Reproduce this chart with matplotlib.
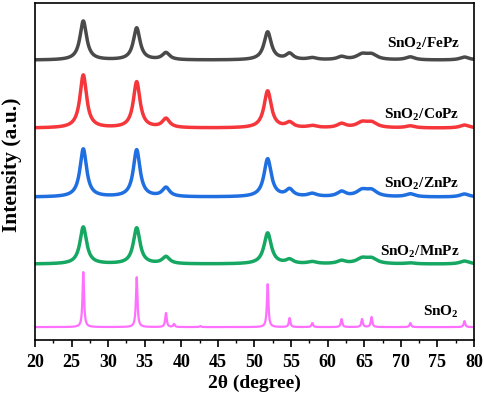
import numpy as np
import matplotlib.pyplot as plt

plt.rcParams['font.family'] = 'Liberation Serif'
plt.rcParams['font.weight'] = 'bold'
plt.rcParams['mathtext.fontset'] = 'custom'
plt.rcParams['mathtext.rm'] = 'Liberation Serif:bold'
plt.rcParams['mathtext.bf'] = 'Liberation Serif:bold'

# peak positions (2theta) and heights
pos = [26.6, 33.9, 37.9, 51.8, 54.8, 57.9, 61.9, 64.7, 66.0, 71.3, 78.7]
fepz = [39, 32, 7, 28, 6, 2, 3, 5, 5, 3, 3]
copz = [53, 46, 9, 37, 5, 2, 4, 5, 5, 2, 3]
znpz = [48, 47, 9, 38, 7, 3, 5, 6, 6, 3, 3]
mnpz = [37, 36, 7, 31, 4, 2, 3, 5, 5, 1, 3]
sno2 = [55, 50, 14, 43, 9, 4, 8, 8, 10, 4, 6]
sno2_extra_pos = [39.0, 42.6]
sno2_extra = [3, 1]

# peak widths (degrees)
film_w = [1.1, 1.1, 1.2, 1.2, 1.2, 1.5, 1.4, 1.8, 1.8, 1.5, 1.5]
ref_w = [0.25] * 13

offsets = [280, 212, 143, 76, 13]
names = ['SnO$_2$/FePz', 'SnO$_2$/CoPz', 'SnO$_2$/ZnPz', 'SnO$_2$/MnPz', 'SnO$_2$']
colors = ['#4a4a4a', '#f5363b', '#1f6fe0', '#16a862', '#ff70ff']
label_y = [297, 225, 156, 88, 28]

x = np.linspace(20, 80, 4000)


def profile(centers, heights, widths):
    y = np.zeros_like(x)
    for c, h, w in zip(centers, heights, widths):
        y += h / (1 + ((x - c) / (w / 2)) ** 2)
    return y


fig = plt.figure(figsize=(4.84, 3.95), dpi=100)
ax = fig.add_axes([0.0723, 0.139, 0.907, 0.853])

series = [fepz, copz, znpz, mnpz]
for i, s in enumerate(series):
    y = profile(pos, s, film_w) + offsets[i]
    ax.plot(x, y, color=colors[i], lw=2.5)

y = profile(pos + sno2_extra_pos, sno2 + sno2_extra, ref_w) + offsets[4]
ax.plot(x, y, color=colors[4], lw=1.6)

for i in range(5):
    ax.text(78.0, label_y[i], names[i], ha='right', va='center', fontsize=11, fontweight='bold')

ax.set_xlim(20, 80)
ax.set_ylim(0, 337)
ax.set_xticks(np.arange(20, 81, 5))
ax.set_xticks(np.arange(22.5, 80, 5), minor=True)
ax.set_yticks([])
ax.tick_params(axis='x', which='major', length=5, width=1.2, labelsize=13, pad=5)
ax.tick_params(axis='x', which='minor', length=2.5, width=1.0)
for sp in ax.spines.values():
    sp.set_linewidth(1.2)
ax.set_xlabel('2θ (degree)', fontsize=14, fontweight='bold', labelpad=3)
ax.set_ylabel('Intensity (a.u.)', fontsize=15.5, fontweight='bold')
ax.yaxis.set_label_coords(-0.03, 0.52)

fig.savefig('out.png', dpi=100)
